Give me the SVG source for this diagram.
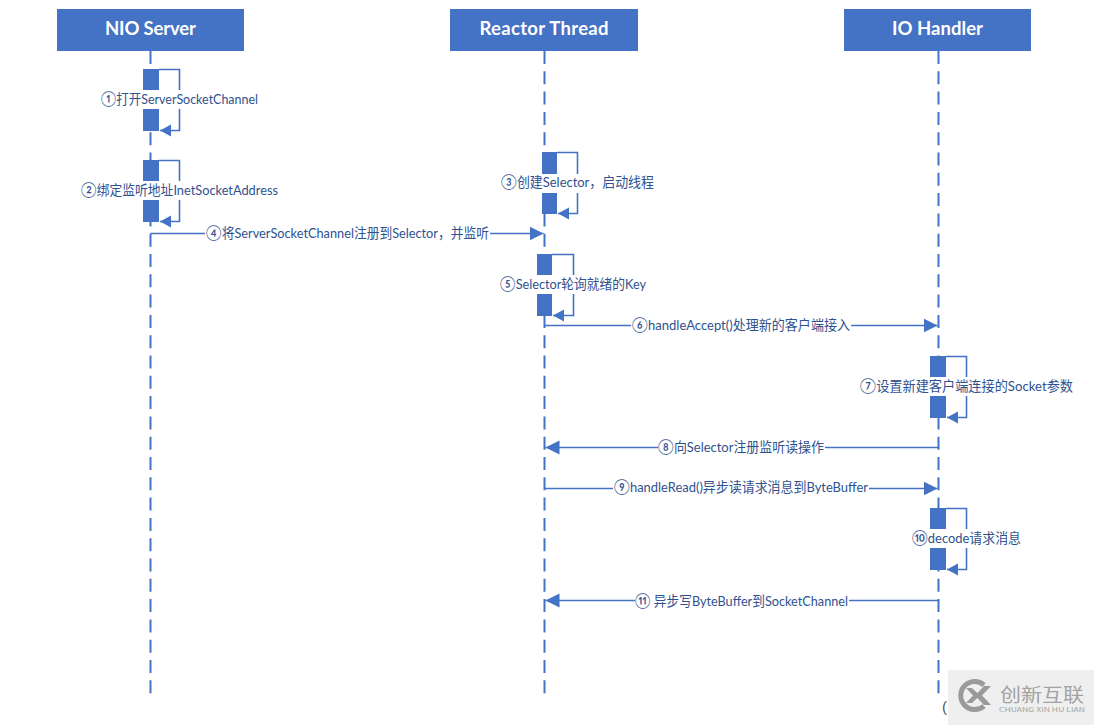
<svg xmlns="http://www.w3.org/2000/svg" width="1094" height="725" viewBox="0 0 1094 725">
<style>
.hd{fill:#4472c4}
.ht{fill:#fff;font:bold 18.500px Lato,"Liberation Sans","Noto Sans CJK SC",sans-serif;text-anchor:middle}
.life{fill:none;stroke:#4472c4;stroke-width:2;stroke-dasharray:13 7.300}
.blk{fill:#4472c4}
.ln{fill:none;stroke:#4472c4;stroke-width:1.600}
.lb{fill:#2f528f;font:13.500px Lato,"Noto Sans CJK SC",sans-serif}
.n{font-size:15px}
.bg{fill:#fff}
.wm{fill:#a3a3a3;font-family:"Noto Sans CJK SC",sans-serif}
</style>
<defs>
<marker id="ah" markerUnits="userSpaceOnUse" markerWidth="15" markerHeight="16" refX="14" refY="8" orient="auto"><path d="M0 1L14 8L0 15z" fill="#4472c4"/></marker>
<marker id="as" markerUnits="userSpaceOnUse" markerWidth="12" markerHeight="14" refX="11" refY="7" orient="auto"><path d="M0 1L11 7L0 13z" fill="#4472c4"/></marker>
</defs>
<rect width="1094" height="725" fill="#fff"/>
<g id="lifelines">
<line class="life" x1="150.500" y1="51" x2="150.500" y2="694"/>
<line class="life" x1="544.500" y1="51" x2="544.500" y2="694"/>
<line class="life" x1="938.500" y1="51" x2="938.500" y2="694"/>
</g>
<g id="connectors">
<path class="ln" marker-end="url(#ah)" d="M150.500 233.500H543.500"/>
<path class="ln" marker-end="url(#ah)" d="M544.500 325.500H937.500"/>
<path class="ln" marker-end="url(#ah)" d="M938.500 447.500H545.500"/>
<path class="ln" marker-end="url(#ah)" d="M544.500 488.500H937.500"/>
<path class="ln" marker-end="url(#ah)" d="M938.500 600.500H545.500"/>
</g>
<g id="nio-server"><rect class="hd" x="57" y="9" width="187" height="42"/><text class="ht" x="150.500" y="35" textLength="91" lengthAdjust="spacing">NIO Server</text></g>
<g id="reactor-thread"><rect class="hd" x="450" y="9" width="188" height="42"/><text class="ht" x="544" y="35" textLength="129" lengthAdjust="spacing">Reactor Thread</text></g>
<g id="io-handler"><rect class="hd" x="844" y="9" width="187" height="42"/><text class="ht" x="937.500" y="35" textLength="91" lengthAdjust="spacing">IO Handler</text></g>

<g id="step1"><path class="ln" marker-end="url(#as)" d="M159 69.500H179.500V130.500H160"/><rect class="blk" x="143" y="69" width="16" height="21"/><rect class="blk" x="143" y="109" width="16" height="22"/><rect class="bg" x="100" y="90" width="158" height="19"/><text class="lb" x="101" y="104" textLength="157" lengthAdjust="spacingAndGlyphs"><tspan class="n">①</tspan>打开ServerSocketChannel</text></g>
<g id="step2"><path class="ln" marker-end="url(#as)" d="M159 160.500H179.500V221.500H160"/><rect class="blk" x="143" y="160" width="16" height="21"/><rect class="blk" x="143" y="200" width="16" height="22"/><rect class="bg" x="80" y="181" width="199" height="19"/><text class="lb" x="81" y="195" textLength="197" lengthAdjust="spacingAndGlyphs"><tspan class="n">②</tspan>绑定监听地址InetSocketAddress</text></g>
<g id="step3"><path class="ln" marker-end="url(#as)" d="M557 152.500H577.500V213.500H558"/><rect class="blk" x="542" y="152" width="15" height="22"/><rect class="blk" x="542" y="193" width="15" height="21"/><rect class="bg" x="500" y="174" width="155" height="19"/><text class="lb" x="501" y="187" textLength="153" lengthAdjust="spacingAndGlyphs"><tspan class="n">③</tspan>创建Selector，启动线程</text></g>
<g id="step5"><path class="ln" marker-end="url(#as)" d="M552 254.500H573.500V315.500H553"/><rect class="blk" x="537" y="254" width="15" height="21"/><rect class="blk" x="537" y="294" width="15" height="22"/><rect class="bg" x="499" y="275" width="148" height="19"/><text class="lb" x="500" y="289" textLength="146" lengthAdjust="spacingAndGlyphs"><tspan class="n">⑤</tspan>Selector轮询就绪的Key</text></g>
<g id="step7"><path class="ln" marker-end="url(#as)" d="M946 356.500H966.500V417.500H947"/><rect class="blk" x="930" y="356" width="16" height="21"/><rect class="blk" x="930" y="396" width="16" height="22"/><rect class="bg" x="859" y="377" width="215" height="19"/><text class="lb" x="860" y="391" textLength="213" lengthAdjust="spacingAndGlyphs"><tspan class="n">⑦</tspan>设置新建客户端连接的Socket参数</text></g>
<g id="step10"><path class="ln" marker-end="url(#as)" d="M946 508.500H966.500V569.500H947"/><rect class="blk" x="930" y="508" width="16" height="21"/><rect class="blk" x="930" y="548" width="16" height="22"/><rect class="bg" x="911" y="529" width="111" height="19"/><text class="lb" x="912" y="543" textLength="109" lengthAdjust="spacingAndGlyphs"><tspan class="n">⑩</tspan>decode请求消息</text></g>

<g id="labels">
<rect class="bg" x="205" y="225" width="285" height="17"/><text class="lb" x="206" y="238" textLength="283" lengthAdjust="spacingAndGlyphs"><tspan class="n">④</tspan>将ServerSocketChannel注册到Selector，并监听</text>
<rect class="bg" x="631" y="317" width="220" height="17"/><text class="lb" x="632" y="330" textLength="218" lengthAdjust="spacingAndGlyphs"><tspan class="n">⑥</tspan>handleAccept()处理新的客户端接入</text>
<rect class="bg" x="658" y="439" width="167" height="17"/><text class="lb" x="658" y="452" textLength="166" lengthAdjust="spacingAndGlyphs"><tspan class="n">⑧</tspan>向Selector注册监听读操作</text>
<rect class="bg" x="613" y="480" width="256" height="17"/><text class="lb" x="614" y="492" textLength="254" lengthAdjust="spacingAndGlyphs"><tspan class="n">⑨</tspan>handleRead()异步读请求消息到ByteBuffer</text>
<rect class="bg" x="635" y="592" width="214" height="17"/><text class="lb" x="635" y="606" textLength="213" lengthAdjust="spacingAndGlyphs"><tspan class="n">⑪</tspan> 异步写ByteBuffer到SocketChannel</text>
</g>

<text x="942" y="712" font-family="Liberation Sans,sans-serif" font-size="15" fill="#555">(</text>
<g id="watermark">
<rect x="948" y="670" width="146" height="55" fill="#efefef"/>
<path d="M984 685A14 14 0 1 0 984 706" fill="none" stroke="#9a9a9a" stroke-width="5"/>
<path d="M966 688L972 688L980 695.500L972 703L966 703L973 695.500ZM984 686L991 686L982 695.500L991 705L984 705L975 695.500Z" fill="#9a9a9a"/>
<text class="wm" x="1000" y="702" font-size="19" textLength="84" lengthAdjust="spacingAndGlyphs">创新互联</text>
<text class="wm" x="999" y="712" font-size="6" textLength="86" lengthAdjust="spacingAndGlyphs">CHUANG XIN HU LIAN</text>
</g>
</svg>
